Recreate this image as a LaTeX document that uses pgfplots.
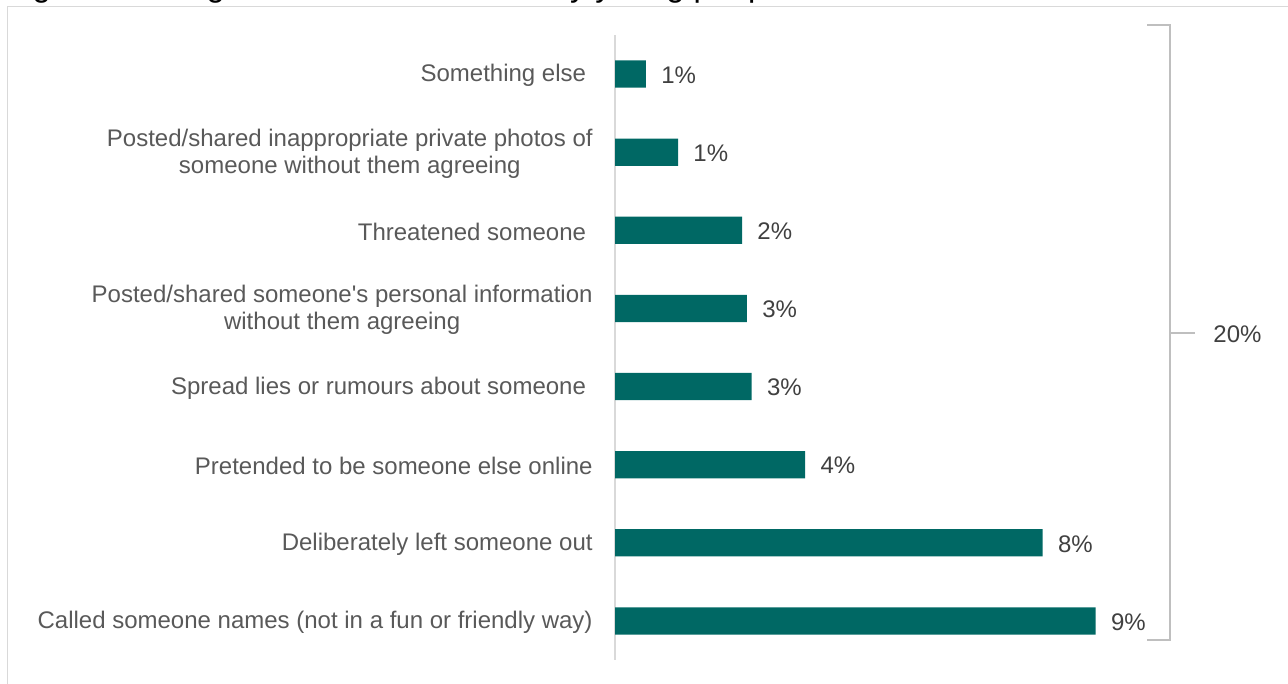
\documentclass[border=0pt]{standalone}
\usepackage{fontspec}
\setmainfont{Liberation Sans}
\usepackage{pgfplots}
\pgfplotsset{compat=1.18}
\definecolor{barc}{RGB}{0,104,100}
\definecolor{lbl}{RGB}{89,89,89}
\definecolor{dlbl}{RGB}{64,64,64}
\definecolor{axl}{RGB}{217,217,217}
\definecolor{brk}{RGB}{191,191,191}
\begin{document}
\begin{tikzpicture}[x=0.5pt,y=0.5pt]
\useasboundingbox (0,0) rectangle (1288,684);
\clip (0,0) rectangle (1288,684);
% outer frame (clipped at right and bottom)
\draw[axl, line width=0.5pt] (1300,677) -- (7,677) -- (7,-20);
% cut-off title
\node[anchor=base west, inner sep=0pt, font=\fontsize{16.35}{19}\selectfont, text=black] at (5,687.5) {Figure 15: Negative online behaviour by young people};
\begin{axis}[
  at={(307.5pt,12pt)}, anchor=south west,
  scale only axis, width=267pt, height=312.5pt,
  xmin=0, xmax=10, ymin=-0.5, ymax=7.5,
  xbar, bar width=13.65pt,
  axis x line=none,
  axis y line*=left,
  y axis line style={draw=axl, line width=0.9pt},
  xtick=\empty,
  ytick={0,1,2,3,4,5,6,7},
  major tick length=0pt,
  yticklabels={
    Called someone names (not in a fun or friendly way),
    Deliberately left someone out,
    Pretended to be someone else online,
    Spread lies or rumours about someone\hspace*{3.3pt},
    Posted/shared someone\textquotesingle s personal information\\without them agreeing,
    Threatened someone\hspace*{3.3pt},
    Posted/shared inappropriate private photos of\\someone without them agreeing,
    Something else\hspace*{3.3pt}
  },
  yticklabel style={align=center, anchor=east, inner sep=0pt, xshift=-11pt, yshift=-0.8pt,
    font=\fontsize{12}{13.5}\selectfont, text=lbl},
  point meta=explicit symbolic,
  nodes near coords,
  nodes near coords style={anchor=west, inner sep=0pt, xshift=7.5pt, yshift=-0.5pt,
    font=\fontsize{12}{14}\selectfont, text=dlbl},
  clip=false,
]
\addplot[fill=barc, draw=none] coordinates {
  (9.00,0) [9\%]
  (8.01,1) [8\%]
  (3.56,2) [4\%]
  (2.56,3) [3\%]
  (2.47,4) [3\%]
  (2.38,5) [2\%]
  (1.18,6) [1\%]
  (0.58,7) [1\%]
};
\end{axis}
% bracket summarising the total
\draw[brk, line width=0.6pt] (1147,659) -- (1170,659) -- (1170,44) -- (1147,44);
\draw[brk, line width=0.6pt] (1170,351) -- (1195,351);
\node[anchor=west, inner sep=0pt, font=\fontsize{12}{14}\selectfont, text=dlbl] at (1213,350) {20\%};
\end{tikzpicture}
\end{document}
